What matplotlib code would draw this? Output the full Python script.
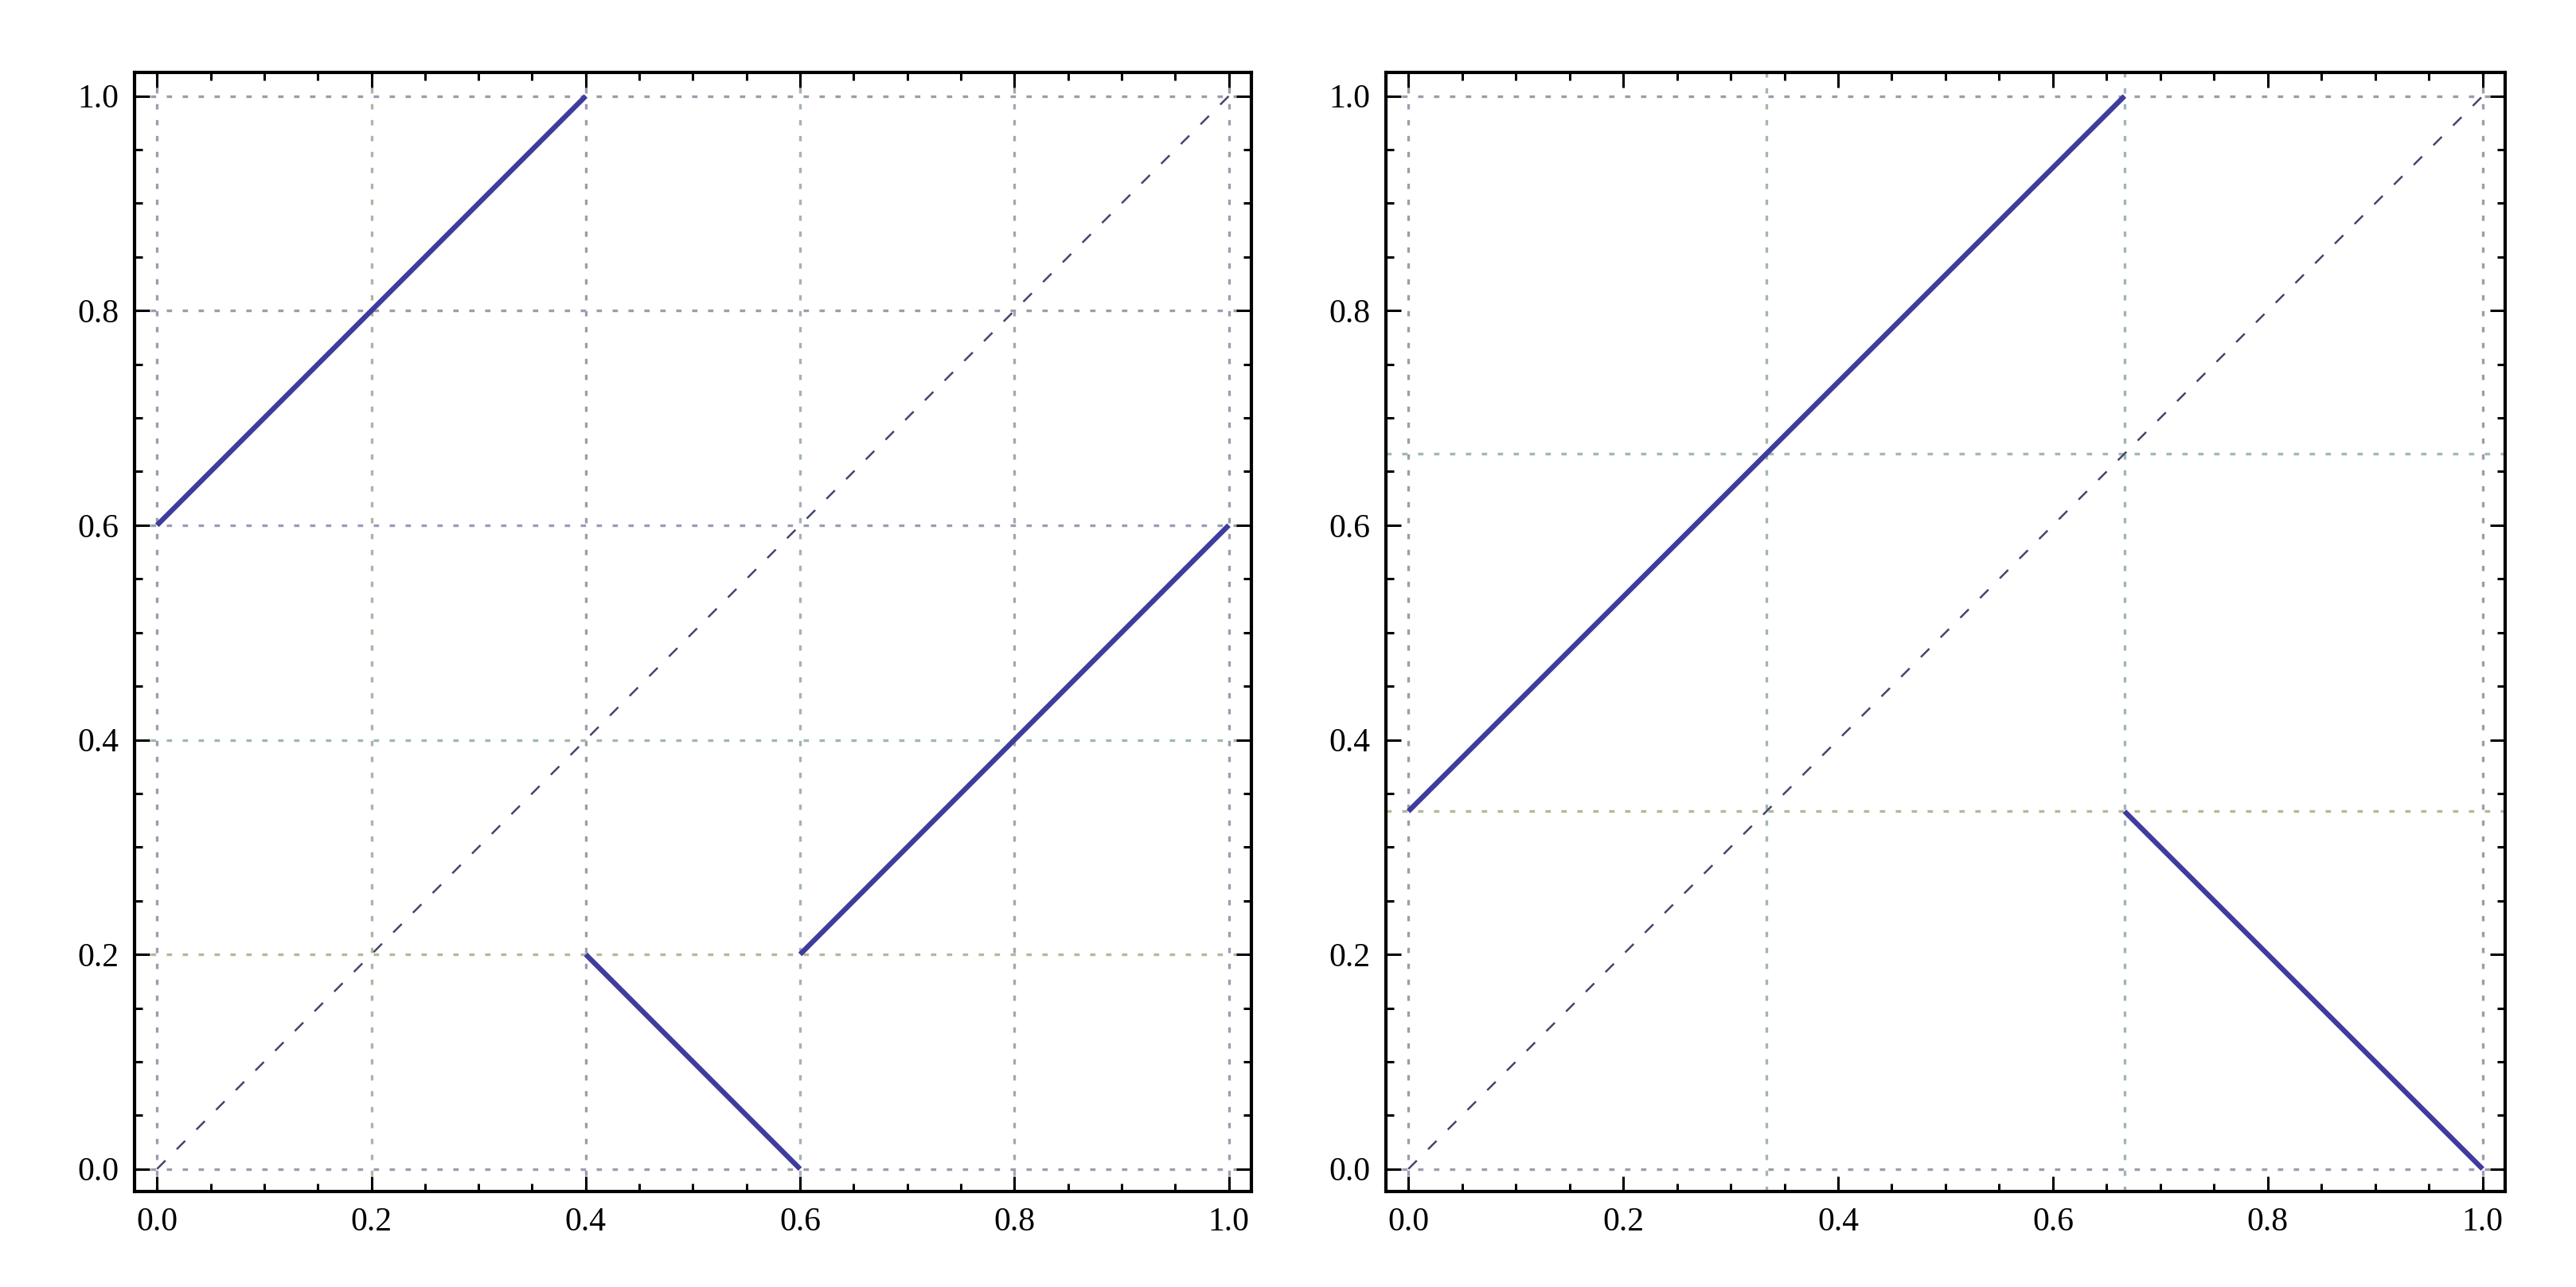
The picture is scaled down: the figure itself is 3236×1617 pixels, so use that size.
import numpy as np
import matplotlib.pyplot as plt
from matplotlib.ticker import MultipleLocator

# left panel: three pieces of the map
lewy_odcinki = [([0.0, 0.4], [0.6, 1.0]),
                ([0.4, 0.6], [0.2, 0.0]),
                ([0.6, 1.0], [0.2, 0.6])]
lewy_siatka_x = [0.0, 0.2, 0.4, 0.6, 0.8, 1.0]
lewy_siatka_y = [0.0, 0.2, 0.4, 0.6, 0.8, 1.0]

# right panel: two pieces
prawy_odcinki = [([0.0, 2/3], [1/3, 1.0]),
                 ([2/3, 1.0], [1/3, 0.0])]
prawy_siatka_x = [0.0, 1/3, 2/3, 1.0]
prawy_siatka_y = [0.0, 1/3, 2/3, 1.0]

przekatna = ([0.0, 1.0], [0.0, 1.0])
etykiety = [0.0, 0.2, 0.4, 0.6, 0.8, 1.0]

kolor = '#3e3c9c'

plt.rcParams['font.family'] = ['Liberation Serif', 'DejaVu Serif']

fig = plt.figure(figsize=(16.185, 8.085), dpi=200)
ax1 = fig.add_axes([0.0522, 0.0742, 0.4334, 0.8695])
ax2 = fig.add_axes([0.5378, 0.0742, 0.4344, 0.8695])


def rysuj(ax, odcinki, sx, sy, kolory_x, kolory_y):
    for i, x in enumerate(sx):
        ax.axvline(x, color=kolory_x[i], lw=1.2, ls=(0, (2, 4)), zorder=1)
    for i, y in enumerate(sy):
        ax.axhline(y, color=kolory_y[i], lw=1.2, ls=(0, (2, 4)), zorder=1)
    ax.plot(przekatna[0], przekatna[1], color='#45456e', lw=0.9,
            ls=(0, (6, 8)), zorder=2)
    for xs, ys in odcinki:
        ax.plot(xs, ys, color=kolor, lw=2.3, solid_capstyle='butt', zorder=3)
    ax.set_xlim(-0.021, 1.021)
    ax.set_ylim(-0.021, 1.022)
    ax.set_xticks(etykiety)
    ax.set_yticks(etykiety)
    ax.set_xticklabels(['%.1f' % v for v in etykiety])
    ax.set_yticklabels(['%.1f' % v for v in etykiety])
    ax.xaxis.set_minor_locator(MultipleLocator(0.05))
    ax.yaxis.set_minor_locator(MultipleLocator(0.05))
    ax.tick_params(which='both', direction='in', top=True, right=True,
                   width=1.1, labelsize=15, color='black')
    ax.tick_params(which='major', length=7, pad=7)
    ax.tick_params(which='minor', length=3.5)
    for s in ax.spines.values():
        s.set_linewidth(1.5)


rysuj(ax1, lewy_odcinki, lewy_siatka_x, lewy_siatka_y,
      ['#9c9cae', '#a8b8a0', '#9c9cae', '#a0b4b8', '#a0a8b0', '#9c9cae'],
      ['#9c9cae', '#b4b898', '#a0b8b0', '#9c9cb4', '#9c9cae', '#9c9cae'])
rysuj(ax2, prawy_odcinki, prawy_siatka_x, prawy_siatka_y,
      ['#9c9cae', '#a0b8a8', '#a0b4b8', '#9c9cae'],
      ['#9c9cae', '#b4b898', '#a0b8b8', '#9c9cae'])

plt.savefig('out.png', dpi=200)
